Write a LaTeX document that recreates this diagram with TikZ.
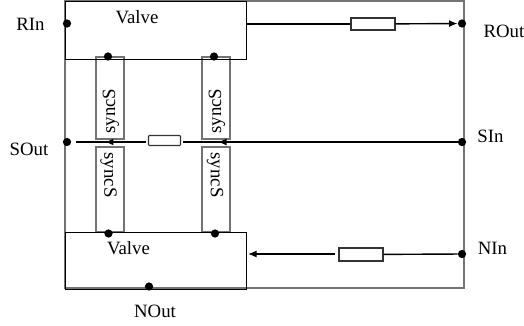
\documentclass[tikz,border=0pt]{standalone}
\usepackage{fontspec}
\setmainfont{Liberation Serif}
\usetikzlibrary{arrows.meta}
\definecolor{wiregray}{gray}{0.45}
\tikzset{
  box/.style={draw=black, line width=0.7pt, inner sep=0pt, anchor=north west},
  syncbox/.style={draw=wiregray, line width=0.8pt, fill=white, inner sep=0pt, minimum width=28*0.02cm},
  delay/.style={draw=black!80, line width=0.6pt, fill=white, inner sep=0pt, minimum height=12*0.02cm},
  port/.style={circle, fill=black, inner sep=0pt, minimum size=0.165cm},
  lbl/.style={font=\fontsize{10.7pt}{12pt}\selectfont, inner sep=0pt},
  wire/.style={line width=0.8pt, -{Latex[length=1.7mm,width=1.4mm]}},
  plain/.style={line width=0.8pt},
  thickwire/.style={line width=1pt}
}
\begin{document}
\begin{tikzpicture}[x=0.02cm, y=-0.02cm]
      \useasboundingbox (0,0) rectangle (524,325);
      \draw[wiregray, line width=0.8pt] (65,1) rectangle (464,288);

      \node[syncbox, minimum height=82*0.02cm] (s1) at (110,98) {};
      \node[syncbox, minimum height=82*0.02cm] (s2) at (216,98) {};
      \node[syncbox, minimum height=85*0.02cm] (s3) at (110,189.5) {};
      \node[syncbox, minimum height=85*0.02cm] (s4) at (216,189.5) {};
      \node[lbl, rotate=90] at (111,111) {syncS};
      \node[lbl, rotate=90] at (217,111) {syncS};
      \node[lbl, rotate=-90] at (108.5,175) {syncS};
      \node[lbl, rotate=-90] at (215,175) {syncS};

      \node[box, minimum width=181*0.02cm, minimum height=57.5*0.02cm] (v1) at (65,1) {};
      \node[box, minimum width=181*0.02cm, minimum height=57*0.02cm, line width=0.8pt] (v2) at (65,232) {};
      \node[lbl] at (137,17.5) {Valve};
      \node[lbl] at (128.5,248) {Valve};

      \node[port] (rin) at (67,23.5) {};
      \node[port] (rout) at (462,23.5) {};
      \node[port] (sout) at (67,142) {};
      \node[port] (sin) at (462,142) {};
      \node[port] (nin) at (462,254) {};
      \node[port] (nout) at (149,286.5) {};
      \node[port] (p1) at (108,56.5) {};
      \node[port] (p2) at (214,56.5) {};
      \node[port] (p3) at (108.5,233.5) {};
      \node[port] (p4) at (215,233.5) {};

      \node[delay, minimum width=44*0.02cm] (d1) at (373,24) {};
      \node[delay, rounded corners=0.5pt, minimum width=32*0.02cm, minimum height=10*0.02cm] (d2) at (164.5,140.5) {};
      \node[delay, minimum width=44*0.02cm, minimum height=13*0.02cm] (d3) at (361,254.5) {};

      \coordinate (w1) at (246,24);
      \coordinate (w2) at (76,142);
      \coordinate (w3) at (183,142);
      \coordinate (w4) at (335,254);
      \coordinate (w5) at (248,254);
      \coordinate (w6) at (146,142);
      \coordinate (a1) at (105,142);
      \coordinate (a2) at (218,142);

      \draw[plain] (w1) -- (d1);
      \draw[wire] (d1) -- (rout);
      \draw[thickwire] (w2) -- (w6);
      \draw[wire] (w6) -- (a1);
      \draw[thickwire] (w3) -- (sin);
      \draw[wire] (sin) -- (a2);
      \draw[plain] (nin) -- (d3);
      \draw[wire] (w4) -- (w5);

      \node[lbl] (lrin) at (30.5,24.5) {RIn};
      \node[lbl] (lrout) at (504,31) {ROut};
      \node[lbl] (lsout) at (29,149.5) {SOut};
      \node[lbl] (lsin) at (490.5,136) {SIn};
      \node[lbl] (lnin) at (492.5,248) {NIn};
      \node[lbl] (lnout) at (155,311) {NOut};
\end{tikzpicture}
\end{document}
